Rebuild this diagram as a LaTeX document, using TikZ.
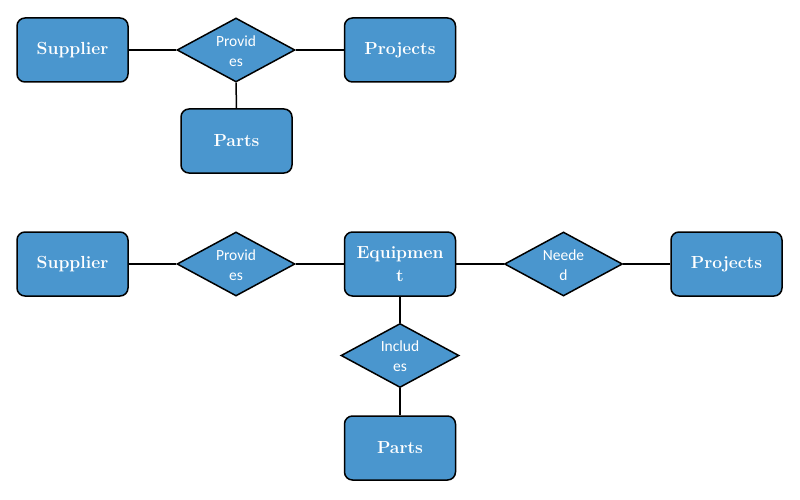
\documentclass[tikz,border=0pt]{standalone}
\usepackage{fontspec}
\newfontfamily\relfont{Carlito}
\usetikzlibrary{shapes.geometric}
\definecolor{boxblue}{RGB}{74,150,206}
\begin{document}
\begin{tikzpicture}[x=1pt,y=-1pt,
  entity/.style={draw=black,line width=1.5pt,fill=boxblue,rounded corners=8pt,
    minimum width=111pt,minimum height=64pt,inner sep=0pt,align=center,
    text=white,font=\fontsize{17.5}{23}\selectfont\bfseries},
  relshape/.style={draw=black,line width=1.5pt,fill=boxblue,diamond,
    minimum width=118pt,minimum height=64pt,inner sep=0pt},
  reltext/.style={text=white,align=center,inner sep=0pt,
    font=\relfont\fontsize{15.5}{20}\selectfont},
  link/.style={line width=1.5pt,draw=black}]
\useasboundingbox (0,0) rectangle (800,500);
% top diagram
\node[entity] (s1) at (72.5,50) {Supplier};
\node[relshape] (p1) at (236,50) {};
\node[reltext] at (236,51) {Provid\\es};
\node[entity] (j1) at (400,50) {Projects};
\node[entity] (t1) at (236.5,141) {Parts};
\draw[link] (s1) -- (p1);
\draw[link] (p1) -- (j1);
\draw[link] (p1) -- (t1);
% bottom diagram
\node[entity] (s2) at (72.5,264) {Supplier};
\node[relshape] (p2) at (236,264) {};
\node[reltext] at (236,265) {Provid\\es};
\node[entity] (e2) at (400,264) {Equipmen\\t};
\node[relshape] (n2) at (563.5,264) {};
\node[reltext] at (563.5,265) {Neede\\d};
\node[entity] (j2) at (726.5,264) {Projects};
\node[relshape] (i2) at (400,355.5) {};
\node[reltext] at (400,356.5) {Includ\\es};
\node[entity] (t2) at (400,448) {Parts};
\draw[link] (s2) -- (p2);
\draw[link] (p2) -- (e2);
\draw[link] (e2) -- (n2);
\draw[link] (n2) -- (j2);
\draw[link] (e2) -- (i2);
\draw[link] (i2) -- (t2);
\end{tikzpicture}
\end{document}
